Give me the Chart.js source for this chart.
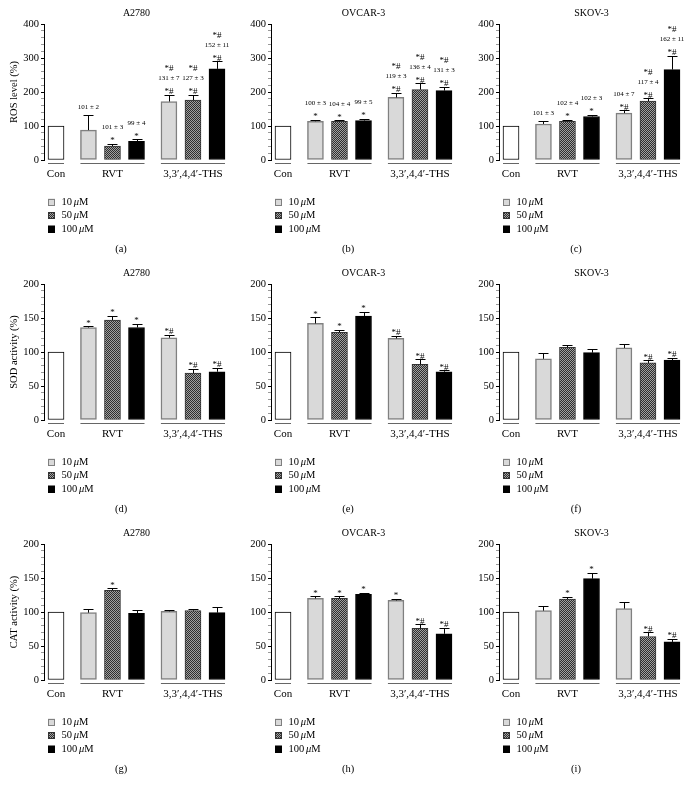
<!DOCTYPE html>
<html>
<head>
<meta charset="utf-8">
<script src="https://cdn.jsdelivr.net/npm/chart.js@4.4.1/dist/chart.umd.min.js"></script>
<style>
  body { margin: 0; background: #fff; }
  #page { position: relative; width: 700px; height: 785px; }
  #page canvas { position: absolute; }
</style>
</head>
<body>
<div id="page"></div>
<script>
// ---- data ----
var categories = ['Con', 'RVT 10', 'RVT 50', 'RVT 100', 'THS 10', 'THS 50', 'THS 100'];
var cellLines = ['A2780', 'OVCAR-3', 'SKOV-3'];
var groupLabels = ['Con', 'RVT', '3,3\u2032,4,4\u2032-THS'];
var doseLabels = ['10', '50', '100'];
var panelLetters = ['(a)', '(b)', '(c)', '(d)', '(e)', '(f)', '(g)', '(h)', '(i)'];

var rosValues = [
  [100, 88, 41, 55, 172, 176, 268],
  [100, 114, 114, 116, 184, 207, 204],
  [100, 106, 114, 128, 138, 173, 266]
];
var rosErrors = [
  [0, 45, 6, 6, 20, 15, 22],
  [0, 4, 3, 5, 13, 19, 11],
  [0, 8, 5, 4, 8, 8, 40]
];
var rosMarks = [
  ['', '101 ± 2', '101 ± 3\n*', '99 ± 4\n*', '*#\n131 ± 7\n*#', '*#\n127 ± 3\n*#', '*#\n152 ± 11\n*#'],
  ['', '100 ± 3\n*', '104 ± 4\n*', '99 ± 5\n*', '*#\n119 ± 3\n*#', '*#\n136 ± 4\n*#', '*#\n131 ± 3\n*#'],
  ['', '101 ± 3', '102 ± 4\n*', '102 ± 3\n*', '104 ± 7\n*#', '*#\n117 ± 4\n*#', '*#\n162 ± 11\n*#']
];

var sodValues = [
  [100, 136, 147, 136, 121, 69, 71],
  [100, 142, 129, 153, 120, 82, 71],
  [100, 90, 107, 99, 106, 84, 88]
];
var sodErrors = [
  [0, 2, 6, 5, 4, 6, 6],
  [0, 9, 4, 6, 4, 7, 2],
  [0, 9, 4, 6, 6, 4, 3]
];
var sodMarks = [
  ['', '*', '*', '*', '*#', '*#', '*#'],
  ['', '*', '*', '*', '*#', '*#', '*#'],
  ['', '', '', '', '', '*#', '*#']
];

var catValues = [
  [100, 99, 132, 98, 101, 102, 99],
  [100, 120, 120, 126, 117, 76, 68],
  [100, 102, 119, 149, 105, 64, 56]
];
var catErrors = [
  [0, 6, 3, 5, 2, 3, 8],
  [0, 3, 3, 2, 2, 6, 9],
  [0, 7, 3, 9, 10, 6, 5]
];
var catMarks = [
  ['', '', '*', '', '', '', ''],
  ['', '*', '*', '*', '*', '*#', '*#'],
  ['', '', '*', '*', '', '*#', '*#']
];

// ---- layout ----
var SERIF = '"Liberation Serif", "Times New Roman", serif';
var slotX = [0, 1.35, 2.35, 3.35, 4.7, 5.7, 6.7];   // bar slots along the hidden x axis
var groups = [[0, 0], [1, 3], [4, 6]];
var colLeft = [0, 227, 455];
var rowTop = [0, 260, 520];
var CW = 229, CH = 260;

var measures = [
  { title: 'ROS level (%)', max: 400, step: 20, major: 100, values: rosValues, errors: rosErrors, marks: rosMarks },
  { title: 'SOD activity (%)', max: 200, step: 10, major: 50, values: sodValues, errors: sodErrors, marks: sodMarks },
  { title: 'CAT activity (%)', max: 200, step: 10, major: 50, values: catValues, errors: catErrors, marks: catMarks }
];

// checkered fill used for the 50 uM bars
function makeHatch() {
  var pc = document.createElement('canvas');
  pc.width = 2; pc.height = 2;
  var p = pc.getContext('2d');
  p.fillStyle = '#a0a0a0';
  p.fillRect(0, 0, 2, 2);
  p.fillStyle = '#2e2e2e';
  p.fillRect(0, 0, 1, 1);
  p.fillRect(1, 1, 1, 1);
  return p.createPattern(pc, 'repeat');
}
var hatch = makeHatch();

var fills = ['#ffffff', '#d9d9d9', hatch, '#000000', '#d9d9d9', hatch, '#000000'];
var borders = ['#000000', '#808080', '#333333', '#000000', '#808080', '#333333', '#000000'];
var borderW = [1, 1.5, 1, 1, 1.5, 1, 1];
var legendFills = ['#d9d9d9', hatch, '#000000'];
var legendBorders = ['#808080', '#333333', '#000000'];

function panelPlugin(values, errors, marks, letter) {
  return {
    id: 'panelExtras',
    afterDatasetsDraw: function (chart) {
      var ctx = chart.ctx;
      var area = chart.chartArea;
      var yScale = chart.scales.y;
      var bars = chart.getDatasetMeta(0).data;
      ctx.save();

      // error bars (upper only)
      ctx.strokeStyle = '#000';
      ctx.lineWidth = 1;
      bars.forEach(function (bar, i) {
        if (!errors[i]) return;
        var top = Math.round(yScale.getPixelForValue(values[i] + errors[i])) + 0.5;
        var x = Math.round(bar.x) + 0.5;
        ctx.beginPath();
        ctx.moveTo(x, bar.y);
        ctx.lineTo(x, top);
        ctx.moveTo(x - 5, top);
        ctx.lineTo(x + 5, top);
        ctx.stroke();
      });

      // significance marks and value labels
      ctx.fillStyle = '#000';
      ctx.textAlign = 'center';
      ctx.textBaseline = 'middle';
      bars.forEach(function (bar, i) {
        if (!marks[i]) return;
        var lines = marks[i].split('\n');
        var cap = yScale.getPixelForValue(values[i] + errors[i]);
        var y = cap;
        for (var k = lines.length - 1; k >= 0; k--) {
          var isStar = lines[k].indexOf('*') >= 0;
          if (k === lines.length - 1) y = cap - (isStar ? 5 : 8);
          else y -= 11.5;
          ctx.font = (isStar ? '9px ' : '7px ') + SERIF;
          ctx.fillText(lines[k], bar.x, y + (isStar ? 2 : 0));
        }
      });

      // group underlines and names
      var half = bars[0].width / 2;
      var yl = Math.round(area.bottom + 3) + 0.5;
      ctx.strokeStyle = '#666';
      ctx.lineWidth = 1;
      ctx.font = '11px ' + SERIF;
      ctx.textBaseline = 'middle';
      groups.forEach(function (g, j) {
        var x0 = bars[g[0]].x - half, x1 = bars[g[1]].x + half;
        ctx.beginPath();
        ctx.moveTo(x0, yl);
        ctx.lineTo(x1, yl);
        ctx.stroke();
        ctx.fillText(groupLabels[j], (x0 + x1) / 2, area.bottom + 14);
      });

      // dose legend
      var lx = area.left + 4;
      doseLabels.forEach(function (d, j) {
        var cy = area.bottom + 42 + j * 13.5;
        ctx.fillStyle = legendFills[j];
        ctx.fillRect(lx, cy - 3.5, 7, 7);
        ctx.strokeStyle = legendBorders[j];
        ctx.lineWidth = 1;
        ctx.strokeRect(lx + 0.5, Math.round(cy - 3.5) + 0.5, 6, 6);
        ctx.fillStyle = '#000';
        ctx.textAlign = 'left';
        var tx = lx + 13.5;
        ctx.font = '10.5px ' + SERIF;
        ctx.fillText(d + ' ', tx, cy);
        tx += ctx.measureText(d + ' ').width - 1;
        ctx.font = 'italic 10.5px ' + SERIF;
        ctx.fillText('\u03bc', tx, cy);
        tx += ctx.measureText('\u03bc').width;
        ctx.font = '10.5px ' + SERIF;
        ctx.fillText('M', tx, cy);
      });

      // panel letter
      ctx.textAlign = 'center';
      ctx.font = '10.5px ' + SERIF;
      ctx.fillText(letter, 121, area.bottom + 89);
      ctx.restore();
    }
  };
}

var page = document.getElementById('page');

measures.forEach(function (m, row) {
  cellLines.forEach(function (line, col) {
    var canvas = document.createElement('canvas');
    canvas.width = CW;
    canvas.height = CH;
    canvas.style.left = colLeft[col] + 'px';
    canvas.style.top = rowTop[row] + 'px';
    page.appendChild(canvas);

    var values = m.values[col];
    var errors = m.errors[col];
    var marks = m.marks[col];

    new Chart(canvas.getContext('2d'), {
      type: 'bar',
      data: {
        labels: categories,
        datasets: [{
          data: slotX.map(function (x, i) { return { x: x, y: values[i] }; }),
          backgroundColor: fills,
          borderColor: borders,
          borderWidth: borderW,
          borderSkipped: false,
          barThickness: 16
        }]
      },
      options: {
        responsive: false,
        animation: false,
        devicePixelRatio: 1,
        layout: { padding: { left: 0, right: 0, top: 0, bottom: 100 } },
        scales: {
          x: { type: 'linear', display: false, min: -0.5, max: 7.2, offset: false },
          y: {
            min: 0,
            max: m.max,
            afterFit: function (s) { s.width = 44; },
            border: { display: true, color: '#000', width: 1 },
            grid: {
              drawOnChartArea: false,
              drawTicks: true,
              tickLength: 3,
              tickColor: function (c) { return c.tick && c.tick.value % m.major === 0 ? '#000' : '#999'; }
            },
            ticks: {
              stepSize: m.step,
              autoSkip: false,
              padding: 2,
              color: '#000',
              font: { family: SERIF, size: 10.5 },
              callback: function (v) { return v % m.major === 0 ? v : ''; }
            },
            title: {
              display: col === 0,
              text: m.title,
              color: '#000',
              font: { family: SERIF, size: 10.5 },
              padding: { top: 8, bottom: 0 }
            }
          }
        },
        plugins: {
          legend: { display: false },
          tooltip: { enabled: false },
          title: {
            display: true,
            text: line,
            fullSize: false,
            color: '#000',
            font: { family: SERIF, size: 10, weight: 'normal' },
            padding: { top: 7, bottom: 5 }
          }
        }
      },
      plugins: [panelPlugin(values, errors, marks, panelLetters[row * 3 + col])]
    });
  });
});
</script>
</body>
</html>
